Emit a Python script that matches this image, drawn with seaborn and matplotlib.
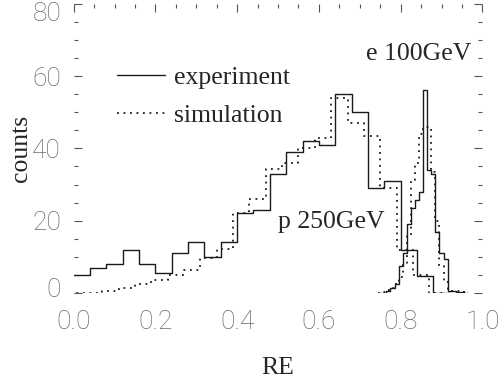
import numpy as np
import pandas as pd
import matplotlib
matplotlib.use("Agg")
import matplotlib.pyplot as plt
import matplotlib.transforms as mtransforms
import seaborn as sns
from matplotlib.ticker import MultipleLocator

# ---------------- data ----------------
# proton 250 GeV, bin width 0.04
p_exp_centers = [0.02, 0.06, 0.10, 0.14, 0.18, 0.22, 0.26, 0.30, 0.34, 0.38, 0.42, 0.46,
                 0.50, 0.54, 0.58, 0.62, 0.66, 0.70, 0.74, 0.78, 0.82, 0.86, 0.90]
p_exp_counts = [5, 7, 8, 12, 8, 5.5, 11, 14, 10, 14, 22, 23,
                33, 39, 42, 41, 55, 50, 29, 31, 12, 4.7, 0]
p_sim_centers = [0.01, 0.05, 0.09, 0.13, 0.17, 0.21, 0.25, 0.29, 0.33, 0.37, 0.41, 0.45,
                 0.49, 0.53, 0.57, 0.61, 0.65, 0.69, 0.73, 0.77, 0.81, 0.85, 0.89]
p_sim_counts = [0, 0, 0.5, 1.5, 2.5, 3.5, 5, 6.4, 9.7, 12.3, 22, 26,
                34.3, 36, 40, 42.8, 54, 47, 43.3, 29, 12, 5, 0]
# electron 100 GeV, bin width 0.01
e_centers = [0.75, 0.76, 0.77, 0.78, 0.79, 0.80, 0.81, 0.82, 0.83, 0.84, 0.85,
             0.86, 0.87, 0.88, 0.89, 0.90, 0.91, 0.92, 0.93, 0.94, 0.95, 0.96]
e_exp_counts = [0, 0, 0.5, 1.5, 2.5, 7.5, 11, 19, 23.5, 25.8, 28,
                56, 34, 33, 17, 11, 9.5, 0.5, 0.5, 0.3, 0.3, 0]
e_sim_counts = [0, 0.3, 0.8, 1.5, 2.5, 4.5, 8, 16, 31, 36, 44,
                46, 46, 33.5, 20, 7.5, 3, 1, 0.5, 0.5, 0.5, 0.3]

legend_labels = ["experiment", "simulation"]
x_ticks = [0.0, 0.2, 0.4, 0.6, 0.8, 1.0]
y_ticks = [0, 20, 40, 60, 80]


def edges_from_centers(c, w):
    c = np.asarray(c, dtype=float)
    return [float(v) for v in np.round(np.append(c - w / 2, c[-1] + w / 2), 4)]


# ---------------- style ----------------
sns.set_style("white")
plt.rcParams["font.family"] = ["Liberation Serif", "DejaVu Serif"]

fig = plt.figure(figsize=(5.0, 3.81), dpi=100)
ax = fig.add_axes([0.1473, 0.231, 0.8175, 0.7593])

FS = 18.5
TFS = 19.0
solid_kw = dict(color="#1a1a1a", linewidth=1.0)
dot_kw = dict(color="#1a1a1a", linewidth=1.3, linestyle=(0, (1, 2.6)))


def draw(centers, counts, width, kw):
    df = pd.DataFrame({"RE": centers, "n": counts})
    sns.histplot(data=df, x="RE", weights="n", bins=edges_from_centers(centers, width),
                 element="step", fill=False, ax=ax, **kw)


draw(p_exp_centers, p_exp_counts, 0.04, solid_kw)
draw(p_sim_centers, p_sim_counts, 0.04, dot_kw)
draw(e_centers, e_exp_counts, 0.01, solid_kw)
draw(e_centers, e_sim_counts, 0.01, dot_kw)

ax.set_xlim(0, 1.0)
ax.set_ylim(0, 80)

for s in ax.spines.values():
    s.set_visible(False)

ax.set_xticks(x_ticks)
ax.set_xticklabels([f"{v:.1f}" for v in x_ticks])
ax.set_yticks(y_ticks)
ax.set_yticklabels([str(v) for v in y_ticks])
ax.xaxis.set_minor_locator(MultipleLocator(0.05))
ax.yaxis.set_minor_locator(MultipleLocator(5))

tick_color = "#555555"
ax.tick_params(axis="x", which="both", direction="in", bottom=False, top=True,
               labelbottom=True, color=tick_color, width=0.8)
ax.tick_params(axis="y", which="both", direction="in", left=True, right=True,
               color=tick_color, width=0.8)
ax.tick_params(which="major", length=5.5)
ax.tick_params(which="minor", length=3)
ax.tick_params(axis="x", pad=12)
ax.tick_params(axis="y", pad=9)

for lab in ax.get_xticklabels() + ax.get_yticklabels():
    lab.set_family(["Roboto", "DejaVu Sans"])
    lab.set_fontweight("light")
    lab.set_fontsize(TFS)
    lab.set_color("#6a6a6a")

# end labels of the y axis sit slightly inside the range, as in the original
yt = ax.yaxis.get_major_ticks()
lab0 = yt[0].label1
lab0.set_transform(lab0.get_transform() + mtransforms.ScaledTranslation(0, 4 / 72, fig.dpi_scale_trans))
labN = yt[-1].label1
labN.set_transform(labN.get_transform() + mtransforms.ScaledTranslation(0, -5.5 / 72, fig.dpi_scale_trans))

ax.set_xlabel("RE", fontsize=FS, labelpad=17)
ax.set_ylabel("counts", fontsize=FS, labelpad=0.5)

ax.text(0.974, 64.5, "e 100GeV", fontsize=FS, ha="right", va="baseline")
ax.text(0.50, 17.9, "p 250GeV", fontsize=FS, ha="left", va="baseline")

lines = ax.get_lines()
ax.legend(handles=[lines[0], lines[1]], labels=legend_labels, loc="upper left",
          bbox_to_anchor=(0.106, 0.785), frameon=False, fontsize=FS,
          handlelength=1.85, handletextpad=0.38, labelspacing=0.6,
          borderpad=0, borderaxespad=0)

fig.savefig("out.png", dpi=100)
